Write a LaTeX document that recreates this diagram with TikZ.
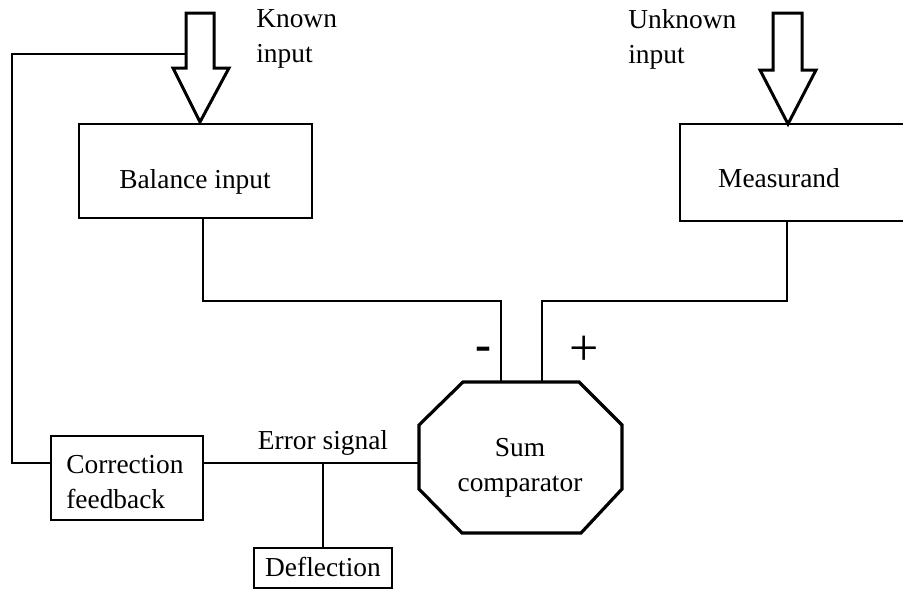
\documentclass[tikz,border=0pt]{standalone}
\usepackage{fontspec}
\setmainfont{Liberation Serif}
\begin{document}
\begin{tikzpicture}[x=0.5pt,y=-0.5pt,
  line width=1.3pt,
  box/.style={draw, line width=1.4pt, inner sep=0pt, rectangle},
  txt/.style={inner sep=0pt, font=\fontsize{13.7}{17.5}\selectfont},
  conn/.style={draw, line width=1.3pt},
  bigarrow/.style={draw, line width=1.5pt, line join=miter}]
\useasboundingbox (0,0) rectangle (903,589);
% boxes
\node[box, minimum width=116.5pt, minimum height=47pt] (bal) at (195.5,171) {};
\node[txt] (baltext) at (195,182) {Balance input};
\node[box, minimum width=116pt, minimum height=48.5pt] (meas) at (796,172.5) {};
\node[txt] (meastext) at (779,178) {Measurand};
\node[box, minimum width=76pt, minimum height=42pt] (corr) at (127,478) {};
\node[txt, align=left, anchor=west] (corrtext) at (65,482) {Correction\\feedback};
\node[box, minimum width=69pt, minimum height=20pt] (defl) at (323,568) {};
\node[txt] (defltext) at (323,567) {Deflection};
% octagon
\coordinate (o1) at (463,382); \coordinate (o2) at (579,382);
\coordinate (o3) at (622,425); \coordinate (o4) at (622,489);
\coordinate (o5) at (581,533); \coordinate (o6) at (462,533);
\coordinate (o7) at (419,489); \coordinate (o8) at (419,425);
\draw[line width=1.6pt, line join=miter] (o1) -- (o2) -- (o3) -- (o4) -- (o5) -- (o6) -- (o7) -- (o8) -- cycle;
\node[txt, align=center] (sum) at (520,468) {Sum\\comparator};
% big arrows
\draw[bigarrow] (186,13) -- (214,13) -- (214,68) -- (229,68) -- (200,122) -- (173,68) -- (186,68) -- cycle;
\draw[bigarrow] (773,13) -- (802,13) -- (802,70) -- (816,70) -- (788,124) -- (760,70) -- (773,70) -- cycle;
% labels
\node[txt, align=left, anchor=north west] (known) at (255,8) {Known\\input};
\node[txt, align=left, anchor=north west] (unknown) at (627,8) {Unknown\\input};
\node[txt] (err) at (323,443) {Error signal};
\node[inner sep=0pt, font=\fontsize{24}{24}\bfseries] (minus) at (483,354) {-};
\node[inner sep=0pt, font=\fontsize{26}{26}\selectfont] (plus) at (584,351) {+};
% connectors
\coordinate (fbtop) at (186,54);
\coordinate (fbc1) at (12,54);
\coordinate (fbc2) at (12,463);
\coordinate (corrin) at (51,463);
\coordinate (corrout) at (203,463);
\coordinate (octin) at (419,463);
\coordinate (tap) at (323,463);
\draw[conn] (fbtop) -- (fbc1) -- (fbc2) -- (corrin);
\draw[conn] (corrout) -- (octin);
\draw[conn] (tap) -- (defl.north);
\coordinate (balout) at (203,218);
\coordinate (measout) at (787,221);
\draw[conn] (balout) -- (203,301) -- (501,301) -- (501,382);
\draw[conn] (measout) -- (787,301) -- (542,301) -- (542,382);
\end{tikzpicture}
\end{document}
